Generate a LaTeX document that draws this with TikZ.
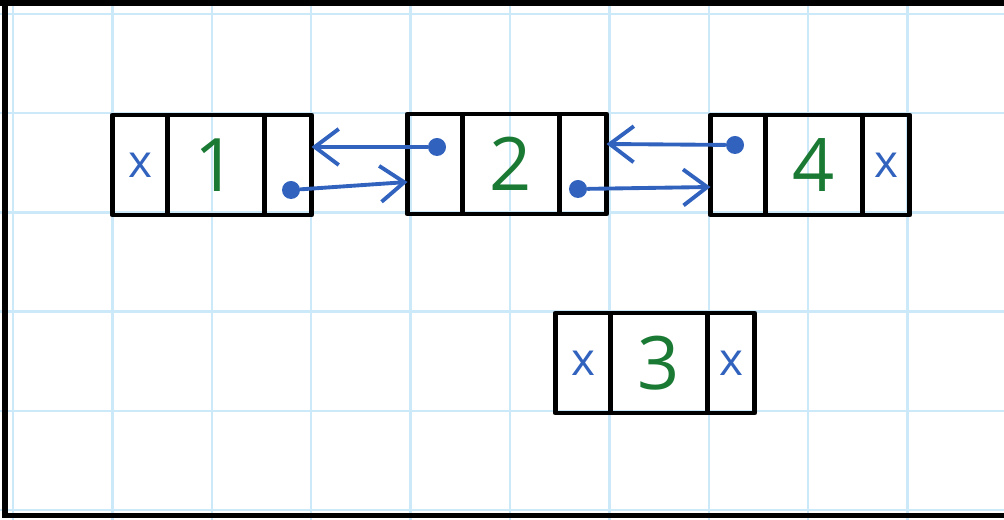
\documentclass[tikz,border=0pt]{standalone}
\usepackage{fontspec}
\setmainfont{Open Sans}
\usepackage{xcolor}
\usepackage{tikz}
\usetikzlibrary{arrows.meta,positioning,calc}
\definecolor{inkblue}{RGB}{48,98,190}
\definecolor{inkgreen}{RGB}{26,122,52}
\definecolor{gridblue}{RGB}{204,233,250}

\begin{document}
\begin{tikzpicture}[x=0.1mm,y=-0.1mm,>={Straight Barb[length=2.4mm,width=3.6mm]},
cell/.style={draw,line width=1.4pt,line join=round,minimum height=10mm,inner sep=0pt,outer sep=0pt},
prevc/.style={cell,minimum width=5.5mm,text=inkblue,font=\fontsize{13}{13}\selectfont},
valc/.style={cell,minimum width=9.7mm,text=inkgreen,font=\fontsize{21}{21}\selectfont},
nextc/.style={cell,minimum width=4.7mm,text=inkblue,font=\fontsize{13}{13}\selectfont},
dot/.style={circle,fill=inkblue,inner sep=0pt,minimum size=1.8mm},
link/.style={->,inkblue,line width=1.1pt,line cap=round},
gridline/.style={gridblue,line width=0.7pt}]
\useasboundingbox (0,0) rectangle (1004,520);
% squared paper
\foreach \i in {0,...,9} {\draw[gridline] (13+99.4*\i,0) -- (13+99.4*\i,520);}
\foreach \j in {0,...,5} {\draw[gridline] (0,14+99.2*\j) -- (1004,14+99.2*\j);}
\fill (0,0) rectangle (1004,6);
\fill (2,0) rectangle (8,518);
\fill (2,513) rectangle (1004,518);
% list
\node[valc] (v1) at (216,165) {1};
\node[prevc,left=0pt of v1] (l1) {x};
\node[nextc,right=0pt of v1] (r1) {};
\node[valc] (v2) at (511,164) {2};
\node[prevc,left=0pt of v2] (l2) {};
\node[nextc,right=0pt of v2] (r2) {};
\node[valc] (v4) at (814,165) {4};
\node[prevc,left=0pt of v4] (l4) {};
\node[nextc,right=0pt of v4] (r4) {x};
\node[valc] (v3) at (659,363) {3};
\node[prevc,left=0pt of v3] (l3) {x};
\node[nextc,right=0pt of v3] (r3) {x};
\node[dot] (d1) at ([shift={(3,25)}]r1.center) {};
\node[dot] (d2a) at ([shift={(2,-17)}]l2.center) {};
\node[dot] (d2b) at ([shift={(-5,25)}]r2.center) {};
\node[dot] (d4) at ([shift={(-3,-20)}]l4.center) {};
\draw[link] (d2a) -- ($(r1.east)+(0,-18)$);
\draw[link] (d1) -- ($(l2.west)+(0,18)$);
\draw[link] (d4) -- ($(r2.east)+(0,-20)$);
\draw[link] (d2b) -- ($(l4.west)+(0,22)$);
\end{tikzpicture}
\end{document}
